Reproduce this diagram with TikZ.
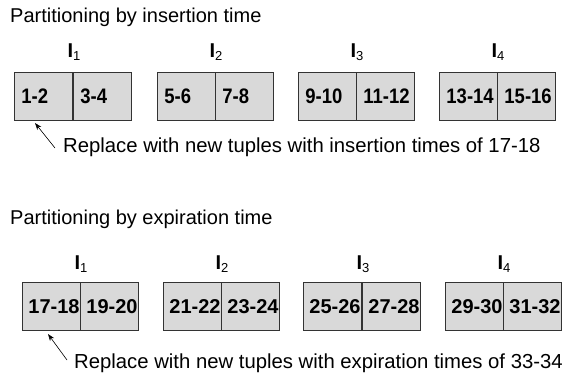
\documentclass[tikz,border=0pt]{standalone}
\usepackage{fontspec}
\setmainfont{Liberation Sans}
\newfontfamily\cellfont[FakeStretch=0.88]{Liberation Sans}
\usetikzlibrary{arrows.meta}
\exhyphenpenalty=10000
\hyphenpenalty=10000
\definecolor{cellfill}{HTML}{D9D9D9}
\definecolor{cellline}{HTML}{333333}
\tikzset{
  cell/.style={draw=cellline, line width=0.9pt, fill=cellfill, anchor=north west,
    minimum width=58pt, minimum height=48pt, inner xsep=7pt, inner ysep=0pt,
    text width=44pt, align=left, font=\cellfont\bfseries\fontsize{21}{21}\selectfont},
  cellb/.style={cell, inner xsep=6pt, text width=46pt, font=\bfseries\fontsize{20}{20}\selectfont},
  title/.style={anchor=base west, inner sep=0pt, font=\fontsize{20}{20}\selectfont},
  note/.style={anchor=base west, inner sep=0pt, font=\fontsize{20.3}{20.3}\selectfont},
  idx/.style={anchor=base, inner sep=0pt, font=\bfseries\fontsize{20}{20}\selectfont},
  pointer/.style={-{Stealth[length=7pt,width=5pt]}, line width=0.6pt}
}
\newcommand{\idxlab}[1]{I\raisebox{-3pt}{\mdseries\fontsize{13}{13}\selectfont #1}}
\newcommand{\cellt}[1]{\mbox{#1}}
\begin{document}
\begin{tikzpicture}[x=1pt,y=-1pt]
\useasboundingbox (0,0) rectangle (565,378);
% top section
\node[title] (t1) at (10,22) {Partitioning by insertion time};
\node[idx] (ia1) at (74,57) {\idxlab{1}};
\node[idx] (ia2) at (216,57) {\idxlab{2}};
\node[idx] (ia3) at (357,57) {\idxlab{3}};
\node[idx] (ia4) at (498,57) {\idxlab{4}};
\node[cell] (a1) at (14,72) {\cellt{1-2}};
\node[cell] (a2) at (73,72) {\cellt{3-4}};
\node[cell] (a3) at (157,72) {\cellt{5-6}};
\node[cell] (a4) at (215,72) {\cellt{7-8}};
\node[cell] (a5) at (298,72) {\cellt{9-10}};
\node[cell] (a6) at (356,72) {\cellt{11-12}};
\node[cell] (a7) at (439,72) {\cellt{13-14}};
\node[cell] (a8) at (497,72) {\cellt{15-16}};
\coordinate (pa) at (35,123);
\coordinate (qa) at (55,148);
\draw[pointer] (qa) -- (pa);
\node[note] (na) at (63,152) {Replace with new tuples with insertion times of 17-18};
% bottom section
\node[title] (t2) at (10,224) {Partitioning by expiration time};
\node[idx] (ib1) at (81,269) {\idxlab{1}};
\node[idx] (ib2) at (222,269) {\idxlab{2}};
\node[idx] (ib3) at (363,269) {\idxlab{3}};
\node[idx] (ib4) at (504,269) {\idxlab{4}};
\node[cellb] (b1) at (22,282) {\cellt{17-18}};
\node[cellb] (b2) at (80,282) {\cellt{19-20}};
\node[cellb] (b3) at (163,282) {\cellt{21-22}};
\node[cellb] (b4) at (221,282) {\cellt{23-24}};
\node[cellb] (b5) at (303,282) {\cellt{25-26}};
\node[cellb] (b6) at (362,282) {\cellt{27-28}};
\node[cellb] (b7) at (445,282) {\cellt{29-30}};
\node[cellb] (b8) at (503,282) {\cellt{31-32}};
\coordinate (pb) at (48,334);
\coordinate (qb) at (67,360);
\draw[pointer] (qb) -- (pb);
\node[note] (nb) at (74,368) {Replace with new tuples with expiration times of 33-34};
\end{tikzpicture}
\end{document}
